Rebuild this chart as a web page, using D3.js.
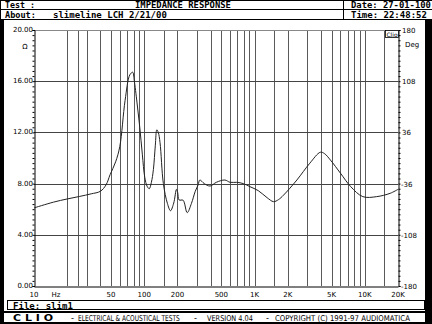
<!DOCTYPE html>
<html><head><meta charset="utf-8">
<script src="https://cdn.jsdelivr.net/npm/d3@7"></script>
<style>html,body{margin:0;padding:0;background:#000;}svg{display:block;}</style>
</head><body>
<script>
// ---- data ----
const freqs = [10,15,20,26,33,40,45,49,55,60,67,74,78.6,81,86,91,96,101,106,111,116,121,126,130,134,139,149,162,173,185,196,201,207,225,245,268,290,308,319,350,395,450,538,600,689,791,909,1080,1300,1486,1650,1833,2420,3170,3950,4300,4880,6030,7460,9600,12800,16970,20000];
const impedance = [6.1,6.55,6.8,7.0,7.2,7.4,7.9,8.7,9.7,10.9,14.5,16.5,16.7,16.1,14.3,12.4,10.3,8.5,7.8,7.6,8.1,9.1,11.0,12.2,12.0,11.2,8.0,6.46,5.88,6.48,7.55,7.3,6.72,6.7,5.73,6.46,7.4,7.9,8.28,8.0,7.81,8.1,8.28,8.1,8.1,8.0,7.76,7.45,6.9,6.59,6.75,7.1,8.28,9.59,10.45,10.35,9.84,8.8,7.76,6.98,6.98,7.24,7.55];
const gridFreqs = [20,25,30,40,50,60,70,80,90,100,150,200,300,400,500,600,700,800,900,1000,1500,2000,3000,4000,5000,6000,7000,8000,9000,10000,15000];
const xTickVals = [10,50,100,200,500,1000,2000,5000,10000,20000];
const xTickLabels = ["10","50","100","200","500","1K","2K","5K","10K","20K"];
const yTicks = [0,4,8,12,16,20];
const yTickLabels = ["0.00","4.00","8.00","12.00","16.00","20.00"];
const phaseTicks = [-180,-108,-36,36,108,180];
const phaseLabels = ["-180","-108","-36","36","108","180"];

const W=432,H=324;
const svg=d3.select("body").append("svg").attr("width",W).attr("height",H);
svg.append("rect").attr("width",W).attr("height",H).attr("fill","#000");
svg.append("rect").attr("x",0).attr("y",0).attr("width",W).attr("height",20).attr("fill","#fff");
svg.append("rect").attr("x",4).attr("y",20).attr("width",421).attr("height",291).attr("fill","#fff");
svg.append("rect").attr("x",4).attr("y",313).attr("width",421).attr("height",9).attr("fill","#fff");

function fitText(parent,xp,yp,t,len,opts){
  const el=parent.append("text").attr("font-family",opts.family).attr("font-size",opts.size)
    .attr("font-weight",opts.weight||"normal").attr("fill","#000").text(t);
  const nat=el.node().getComputedTextLength()||len;
  el.attr("transform",`translate(${xp},${yp}) scale(${len/nat},1)`);
  return el;
}

const hdr=svg.append("g");
[[0,W,0.5,0.5],[0,W,9.5,9.5],[0,W,19.5,19.5]].forEach(l=>hdr.append("line").attr("x1",l[0]).attr("x2",l[1]).attr("y1",l[2]).attr("y2",l[3]).attr("stroke","#000"));
hdr.append("line").attr("x1",0.5).attr("x2",0.5).attr("y1",0).attr("y2",20).attr("stroke","#000");
hdr.append("line").attr("x1",343.5).attr("x2",343.5).attr("y1",0).attr("y2",20).attr("stroke","#000");
const hopt={family:"'DejaVu Sans Mono', monospace",size:8.5,weight:"bold"};
fitText(hdr,5,8,"Test :",30,hopt);
fitText(hdr,135,8,"IMPEDANCE RESPONSE",96,hopt);
fitText(hdr,351,8,"Date: 27-01-100",80,hopt);
fitText(hdr,5,17.5,"About:",31,hopt);
fitText(hdr,53,17.5,"slimeline LCH 2/21/00",114,hopt);
fitText(hdr,351,17.5,"Time: 22:48:52",76,hopt);

const x=d3.scaleLog().domain([10,20000]).range([34,398]);
const y=d3.scaleLinear().domain([0,20]).range([286,30]);
const yR=d3.scaleLinear().domain([-180,180]).range([286,30]);

const g=svg.append("g");
g.selectAll(".vg").data(gridFreqs).enter().append("line")
 .attr("x1",d=>Math.round(x(d))+0.5).attr("x2",d=>Math.round(x(d))+0.5)
 .attr("y1",30).attr("y2",286).attr("stroke","#5a5a5a").attr("stroke-width",1);
g.selectAll(".hg").data([4,8,12,16]).enter().append("line")
 .attr("x1",34).attr("x2",398).attr("y1",d=>Math.round(y(d))+0.5).attr("y2",d=>Math.round(y(d))+0.5)
 .attr("stroke","#444").attr("stroke-width",1);
g.append("line").attr("x1",34).attr("x2",398).attr("y1",30.5).attr("y2",30.5).attr("stroke","#888");

const leftAxis=d3.axisLeft(y).tickValues(d3.range(0,20.01,0.4)).tickSize(2).tickFormat("");
const la=g.append("g").attr("transform","translate(34.5,0)").call(leftAxis);
la.select(".domain").attr("stroke","#000");
const rightAxis=d3.axisRight(yR).tickValues(d3.range(-180,180.01,7.2)).tickSize(2).tickFormat("");
const ra=g.append("g").attr("transform","translate(398.5,0)").call(rightAxis);
ra.select(".domain").attr("stroke","#000");
const bottomAxis=d3.axisBottom(x).tickValues(gridFreqs).tickSize(0).tickFormat("");
const ba=g.append("g").attr("transform","translate(0,286.5)").call(bottomAxis);
ba.select(".domain").attr("stroke","#000");

const lfont="'DejaVu Sans', sans-serif";
g.selectAll(".yl").data(yTicks).enter().append("text")
 .attr("x",33).attr("y",d=>y(d)+2).attr("text-anchor","end")
 .attr("font-family",lfont).attr("font-size",7).attr("fill","#000")
 .text((d,i)=>yTickLabels[i]);
g.append("text").attr("x",25).attr("y",49).attr("text-anchor","middle").attr("font-family",lfont).attr("font-size",7).text("Ω");
g.selectAll(".rl").data(phaseTicks).enter().append("text")
 .attr("x",d=>d<0?401:402).attr("y",d=>yR(d)+3).attr("font-family",lfont).attr("font-size",7)
 .text((d,i)=>phaseLabels[i]);
g.append("text").attr("x",405).attr("y",47).attr("font-family",lfont).attr("font-size",7).text("Deg");
g.selectAll(".xl").data(xTickVals).enter().append("text")
 .attr("x",d=>x(d)).attr("y",297).attr("text-anchor","middle").attr("font-family",lfont).attr("font-size",7)
 .text((d,i)=>xTickLabels[i]);
g.append("text").attr("x",56).attr("y",297).attr("text-anchor","middle").attr("font-family",lfont).attr("font-size",7).text("Hz");
g.append("rect").attr("x",385.5).attr("y",30.5).attr("width",13).attr("height",7).attr("fill","#fff").attr("stroke","#000").attr("stroke-width",0.8);
g.append("text").attr("x",392).attr("y",36.5).attr("text-anchor","middle").attr("font-family",lfont).attr("font-size",6).text("Clio");

const line=d3.line().x((d,i)=>x(freqs[i])).y(d=>y(d)).curve(d3.curveCatmullRom.alpha(0.5));
g.append("path").datum(impedance).attr("d",line).attr("fill","none").attr("stroke","#222").attr("stroke-width",1);

svg.append("rect").attr("x",7.5).attr("y",300.5).attr("width",417).attr("height",9).attr("fill","#fff").attr("stroke","#000");
fitText(svg,13,308.5,"File: slim1",60,hopt);

const ff=svg.append("g");
const fopt={family:lfont,size:8};
fitText(ff,13,320.5,"C L I O",40,{family:lfont,size:8,weight:"bold"});
fitText(ff,71,320.5,"-",3,fopt);
fitText(ff,78,320.5,"ELECTRICAL & ACOUSTICAL TESTS",102,fopt);
fitText(ff,194,320.5,"-",3,fopt);
fitText(ff,207,320.5,"VERSION 4.04",46,fopt);
fitText(ff,266,320.5,"-",3,fopt);
fitText(ff,275,320.5,"COPYRIGHT (C) 1991-97 AUDIOMATICA",135,fopt);
</script>
</body></html>
